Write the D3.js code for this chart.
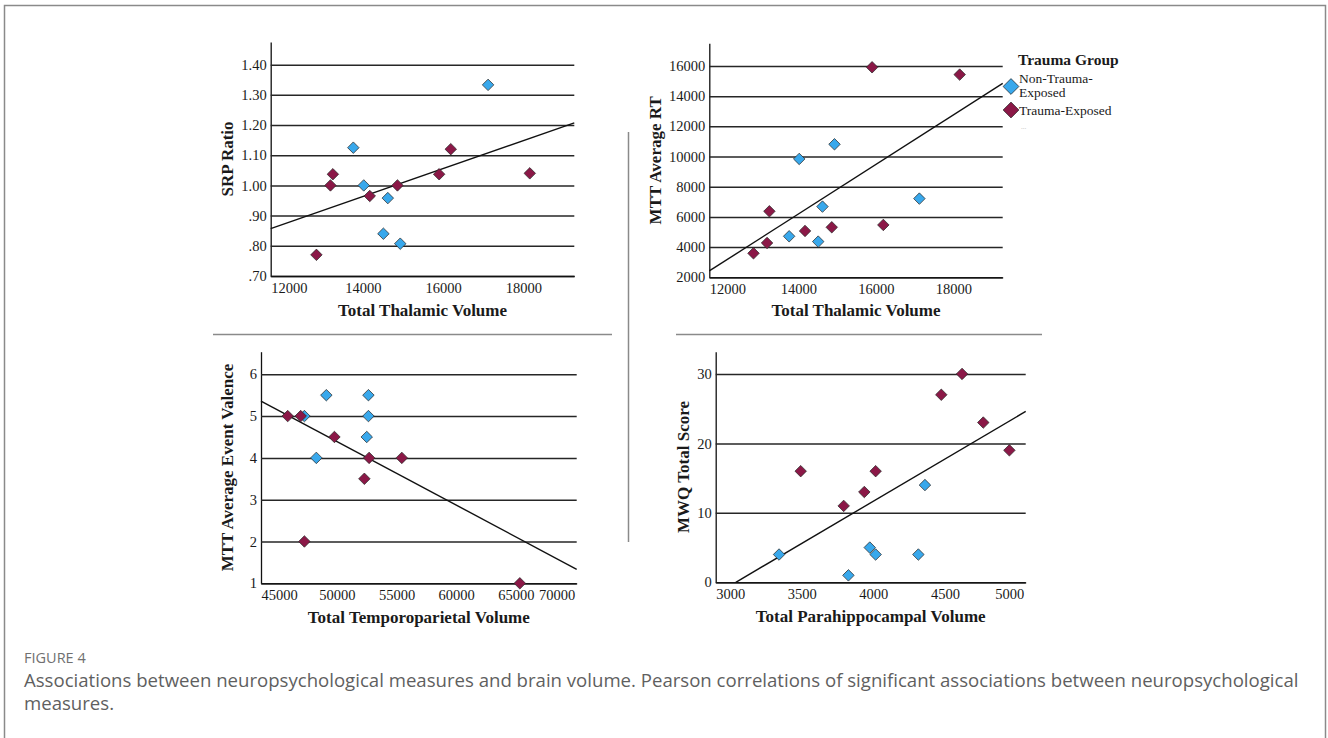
<!DOCTYPE html>
<html>
<head>
<meta charset="utf-8">
<script src="https://cdn.jsdelivr.net/npm/d3@7"></script>
<style>
  body { margin: 0; background: #fff; }
  svg { display: block; }
</style>
</head>
<body>
<svg id="fig" width="1328" height="738"></svg>
<script>
// ---- data ----
const groupNames = ["Non-Trauma-", "Trauma-Exposed"];
const groupColors = ["#38a8ec", "#8b1847"];

// same 14 subjects in panels A and B: 6 non-trauma (0), 8 trauma (1)
const thalamicGroup = [0, 0, 0, 0, 0, 0, 1, 1, 1, 1, 1, 1, 1, 1];
const thalamicVolume = [13760, 14020, 14510, 14620, 14930, 17120, 12840, 13190, 13250, 14170, 14860, 15900, 16190, 18160];
const srpRatio = [1.125, 1.0, 0.84, 0.958, 0.807, 1.333, 0.77, 1.0, 1.037, 0.965, 1.0, 1.037, 1.12, 1.04];
const mttAverageRT = [4717, 9840, 4364, 6682, 10811, 7212, 3590, 4275, 6373, 5070, 5313, 15912, 5468, 15426];

const valenceGroup = [0, 0, 0, 0, 0, 0, 1, 1, 1, 1, 1, 1, 1, 1];
const temporoparietalVolume = [47270, 48270, 49110, 52640, 52640, 52500, 45870, 46960, 47270, 49790, 52700, 52300, 55440, 65340];
const eventValence = [5, 4, 5.5, 5.5, 5, 4.5, 5, 5, 2, 4.5, 4, 3.5, 4, 1];

const mwqGroup = [0, 0, 0, 0, 0, 0, 1, 1, 1, 1, 1, 1, 1, 1];
const parahippocampalVolume = [3342, 3826, 3975, 4016, 4314, 4360, 3493, 3793, 3937, 4016, 4474, 4619, 4767, 4949];
const mwqTotalScore = [4, 1, 5, 4, 4, 14, 16, 11, 13, 16, 27, 30, 23, 19];

// fit lines, two end points each
const fitSRP = [[11700, 0.857], [19270, 1.207]];
const fitRT = [[11700, 2420], [19270, 14850]];
const fitValence = [[43630, 5.36], [70110, 1.335]];
const fitMWQ = [[3040, 0], [5063, 24.6]];

// axes
const thalamicTicks = [12000, 14000, 16000, 18000];
const srpTicks = [0.7, 0.8, 0.9, 1.0, 1.1, 1.2, 1.3, 1.4];
const rtTicks = [2000, 4000, 6000, 8000, 10000, 12000, 14000, 16000];
const temporoTicks = [45000, 50000, 55000, 60000, 65000, 70000];
const valenceTicks = [1, 2, 3, 4, 5, 6];
const paraTicks = [3000, 3500, 4000, 4500, 5000];
const mwqTicks = [0, 10, 20, 30];

const serif = "'Liberation Serif', 'Times New Roman', serif";
const sans = "'Open Sans', 'Noto Sans', sans-serif";

const svg = d3.select("#fig");

// page border
svg.append("rect")
  .attr("x", 4.5).attr("y", 5.5)
  .attr("width", 1321).attr("height", 800)
  .attr("fill", "none").attr("stroke", "#8a8a8a").attr("stroke-width", 1.5);

function drawPanel(p) {
  const x = d3.scaleLinear().domain(p.xDomain).range([p.left, p.right]);
  const y = d3.scaleLinear().domain(p.yDomain).range([p.bottom, p.top]);
  const g = svg.append("g");

  // y axis + horizontal gridlines
  const yAxis = g.append("g")
    .attr("transform", `translate(${p.left},0)`)
    .call(d3.axisLeft(y)
      .tickValues(p.yTicks)
      .tickFormat(p.yFormat)
      .tickSize(-(p.right - p.left))
      .tickSizeOuter(0)
      .tickPadding(4));
  yAxis.select(".domain").attr("stroke", "#111").attr("stroke-width", 1.3);
  yAxis.selectAll(".tick line").attr("stroke", "#262626").attr("stroke-width", 1.5);
  yAxis.selectAll(".tick text")
    .attr("font-family", serif).attr("font-size", 14.5).attr("fill", "#1a1a1a");

  // x axis
  const xAxis = g.append("g")
    .attr("transform", `translate(0,${p.bottom})`)
    .call(d3.axisBottom(x)
      .tickValues(p.xTicks)
      .tickFormat(d3.format("d"))
      .tickSize(0)
      .tickSizeOuter(0)
      .tickPadding(6.5));
  xAxis.select(".domain").attr("stroke", "#111").attr("stroke-width", 1.3);
  xAxis.selectAll(".tick text")
    .attr("font-family", serif).attr("font-size", 14.5).attr("fill", "#1a1a1a")
    .each(function (d) {
      // keep the end labels inside the plot, as the original does
      const w = this.getComputedTextLength();
      const cx = x(d);
      let shift = 0;
      if (cx - w / 2 < p.left) shift = p.left - (cx - w / 2);
      if (cx + w / 2 > p.right - 2) shift = (p.right - 2) - (cx + w / 2);
      d3.select(this).attr("x", shift);
    });

  // fit line
  g.append("path")
    .datum(p.fit)
    .attr("d", d3.line().x(d => x(d[0])).y(d => y(d[1])))
    .attr("fill", "none").attr("stroke", "#111").attr("stroke-width", 1.4);

  // points
  g.selectAll("path.pt")
    .data(d3.range(p.xs.length))
    .join("path")
    .attr("class", "pt")
    .attr("d", d3.symbol(d3.symbolSquare, 66))
    .attr("transform", i => `translate(${x(p.xs[i])},${y(p.ys[i])}) rotate(45)`)
    .attr("fill", i => groupColors[p.group[i]])
    .attr("stroke", "#2a2a2a").attr("stroke-width", 0.7);

  // axis titles
  g.append("text")
    .attr("x", (p.left + p.right) / 2).attr("y", p.xTitleY)
    .attr("text-anchor", "middle")
    .attr("font-family", serif).attr("font-size", 17).attr("font-weight", "bold")
    .attr("fill", "#1a1a1a")
    .text(p.xTitle);
  g.append("text")
    .attr("transform", `translate(${p.yTitleX},${(p.top + p.bottom) / 2}) rotate(-90)`)
    .attr("text-anchor", "middle")
    .attr("font-family", serif).attr("font-size", 17).attr("font-weight", "bold")
    .attr("fill", "#1a1a1a")
    .text(p.yTitle);
}

const fmtSRP = d => (d >= 1 ? d.toFixed(2) : d.toFixed(2).slice(1));

drawPanel({
  left: 270.7, right: 574.3, top: 42, bottom: 276,
  xDomain: [11700, 19270], yDomain: [0.7, 1.475],
  xTicks: thalamicTicks, yTicks: srpTicks, yFormat: fmtSRP,
  xs: thalamicVolume, ys: srpRatio, group: thalamicGroup, fit: fitSRP,
  xTitle: "Total Thalamic Volume", xTitleY: 316,
  yTitle: "SRP Ratio", yTitleX: 233
});

drawPanel({
  left: 709.3, right: 1002.7, top: 43.3, bottom: 277.3,
  xDomain: [11700, 19270], yDomain: [2000, 17500],
  xTicks: thalamicTicks, yTicks: rtTicks, yFormat: d3.format("d"),
  xs: thalamicVolume, ys: mttAverageRT, group: thalamicGroup, fit: fitRT,
  xTitle: "Total Thalamic Volume", xTitleY: 316,
  yTitle: "MTT Average RT", yTitleX: 661
});

drawPanel({
  left: 261, right: 576.7, top: 351.7, bottom: 583.3,
  xDomain: [43630, 70110], yDomain: [1, 6.54],
  xTicks: temporoTicks, yTicks: valenceTicks, yFormat: d3.format("d"),
  xs: temporoparietalVolume, ys: eventValence, group: valenceGroup, fit: fitValence,
  xTitle: "Total Temporoparietal Volume", xTitleY: 623,
  yTitle: "MTT Average Event Valence", yTitleX: 233
});

drawPanel({
  left: 715.7, right: 1025.7, top: 351.7, bottom: 582.3,
  xDomain: [2900, 5063], yDomain: [0, 33.2],
  xTicks: paraTicks, yTicks: mwqTicks, yFormat: d3.format("d"),
  xs: parahippocampalVolume, ys: mwqTotalScore, group: mwqGroup, fit: fitMWQ,
  xTitle: "Total Parahippocampal Volume", xTitleY: 622,
  yTitle: "MWQ Total Score", yTitleX: 689
});

// panel dividers
const divider = "#8a8a8a";
svg.append("line").attr("x1", 628.5).attr("x2", 628.5).attr("y1", 132).attr("y2", 542)
  .attr("stroke", divider).attr("stroke-width", 1.5);
svg.append("line").attr("x1", 213).attr("x2", 612).attr("y1", 334.5).attr("y2", 334.5)
  .attr("stroke", divider).attr("stroke-width", 1.5);
svg.append("line").attr("x1", 676).attr("x2", 1042).attr("y1", 334.5).attr("y2", 334.5)
  .attr("stroke", divider).attr("stroke-width", 1.5);

// legend
const legend = svg.append("g").attr("transform", "translate(1011,0)");
legend.append("text")
  .attr("x", 7).attr("y", 65)
  .attr("font-family", serif).attr("font-size", 15.5).attr("font-weight", "bold")
  .attr("fill", "#1a1a1a")
  .text("Trauma Group");
const legendY = [86.5, 110];
legend.selectAll("path.key")
  .data(groupColors)
  .join("path")
  .attr("class", "key")
  .attr("d", d3.symbol(d3.symbolSquare, 125))
  .attr("transform", (d, i) => `translate(0,${legendY[i]}) rotate(45)`)
  .attr("fill", d => d)
  .attr("stroke", "#2a2a2a").attr("stroke-width", 0.7);
legend.selectAll("text.key")
  .data(groupNames)
  .join("text")
  .attr("class", "key")
  .attr("x", 8).attr("y", (d, i) => i === 0 ? 83 : 114.5)
  .attr("font-family", serif).attr("font-size", 13.5).attr("fill", "#1a1a1a")
  .text(d => d);
legend.append("text")
  .attr("x", 8).attr("y", 97)
  .attr("font-family", serif).attr("font-size", 13.5).attr("fill", "#1a1a1a")
  .text("Exposed");
legend.append("text")
  .attr("x", 10).attr("y", 129)
  .attr("font-family", serif).attr("font-size", 7).attr("fill", "#bbb")
  .text("...");

// caption
svg.append("text")
  .attr("x", 24).attr("y", 663)
  .attr("font-family", sans).attr("font-size", 14.5).attr("fill", "#707070")
  .text("FIGURE 4");
svg.append("text")
  .attr("x", 24).attr("y", 687)
  .attr("font-family", sans).attr("font-size", 18.6).attr("fill", "#5f5f5f")
  .text("Associations between neuropsychological measures and brain volume. Pearson correlations of significant associations between neuropsychological");
svg.append("text")
  .attr("x", 24).attr("y", 710)
  .attr("font-family", sans).attr("font-size", 18.6).attr("fill", "#5f5f5f")
  .text("measures.");
</script>
</body>
</html>
